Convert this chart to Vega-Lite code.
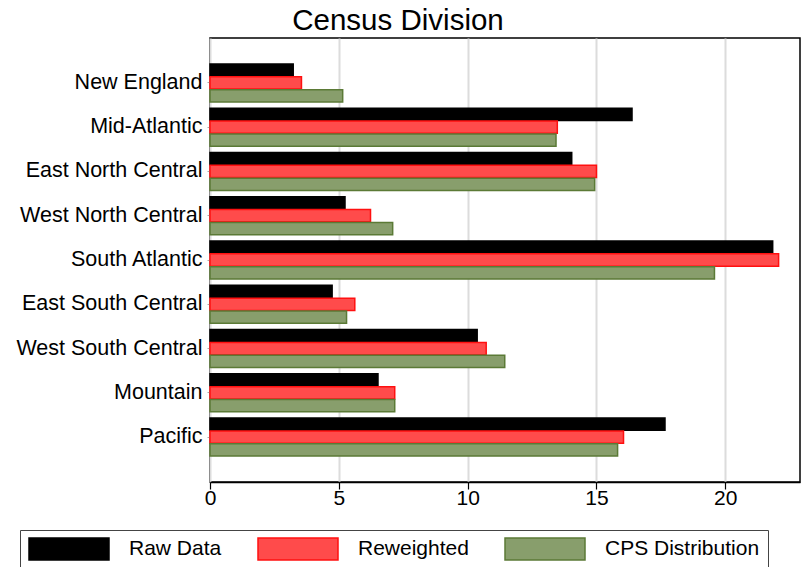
{
  "$schema": "https://vega.github.io/schema/vega-lite/v6.json",
  "width": 590,
  "height": 444,
  "autosize": {"type": "none"},
  "padding": {"left": 210, "top": 38, "right": 11, "bottom": 85},
  "title": {
    "text": "Census Division",
    "fontSize": 29.5,
    "fontWeight": "normal",
    "color": "#000000",
    "anchor": "middle",
    "dx": -107,
    "offset": 2
  },
  "data": {
    "values": [
      {"division": "New England", "series": "Raw Data", "value": 3.23},
      {"division": "New England", "series": "Reweighted", "value": 3.55},
      {"division": "New England", "series": "CPS Distribution", "value": 5.15},
      {"division": "Mid-Atlantic", "series": "Raw Data", "value": 16.38},
      {"division": "Mid-Atlantic", "series": "Reweighted", "value": 13.48},
      {"division": "Mid-Atlantic", "series": "CPS Distribution", "value": 13.43},
      {"division": "East North Central", "series": "Raw Data", "value": 14.04},
      {"division": "East North Central", "series": "Reweighted", "value": 15.0},
      {"division": "East North Central", "series": "CPS Distribution", "value": 14.93},
      {"division": "West North Central", "series": "Raw Data", "value": 5.24},
      {"division": "West North Central", "series": "Reweighted", "value": 6.23},
      {"division": "West North Central", "series": "CPS Distribution", "value": 7.09},
      {"division": "South Atlantic", "series": "Raw Data", "value": 21.84},
      {"division": "South Atlantic", "series": "Reweighted", "value": 22.07},
      {"division": "South Atlantic", "series": "CPS Distribution", "value": 19.58},
      {"division": "East South Central", "series": "Raw Data", "value": 4.74},
      {"division": "East South Central", "series": "Reweighted", "value": 5.62},
      {"division": "East South Central", "series": "CPS Distribution", "value": 5.30},
      {"division": "West South Central", "series": "Raw Data", "value": 10.37},
      {"division": "West South Central", "series": "Reweighted", "value": 10.72},
      {"division": "West South Central", "series": "CPS Distribution", "value": 11.44},
      {"division": "Mountain", "series": "Raw Data", "value": 6.52},
      {"division": "Mountain", "series": "Reweighted", "value": 7.17},
      {"division": "Mountain", "series": "CPS Distribution", "value": 7.17},
      {"division": "Pacific", "series": "Raw Data", "value": 17.66},
      {"division": "Pacific", "series": "Reweighted", "value": 16.05},
      {"division": "Pacific", "series": "CPS Distribution", "value": 15.82}
    ]
  },
  "mark": {"type": "bar", "strokeWidth": 1.5},
  "encoding": {
    "y": {
      "field": "division",
      "type": "nominal",
      "sort": ["New England", "Mid-Atlantic", "East North Central", "West North Central", "South Atlantic", "East South Central", "West South Central", "Mountain", "Pacific"],
      "scale": {"paddingInner": 0.14, "paddingOuter": 0.585},
      "axis": {
        "title": null,
        "labelFontSize": 21.5,
        "labelColor": "#000000",
        "ticks": true,
        "tickSize": 3,
        "tickColor": "#aaaaaa",
        "labelPadding": 5,
        "labelBaseline": "middle",
        "domain": false,
        "grid": false,
        "labelLimit": 300
      }
    },
    "yOffset": {
      "field": "series",
      "type": "nominal",
      "sort": ["Raw Data", "Reweighted", "CPS Distribution"],
      "scale": {"paddingInner": 0.05}
    },
    "x": {
      "field": "value",
      "type": "quantitative",
      "scale": {"domain": [0, 22.9], "nice": false, "zero": true},
      "axis": {
        "title": null,
        "values": [0, 5, 10, 15, 20],
        "labelFontSize": 21,
        "labelColor": "#000000",
        "labelFlush": false,
        "tickSize": 7,
        "tickColor": "#000000",
        "tickWidth": 1.2,
        "labelPadding": -2,
        "domainColor": "#000000",
        "domainWidth": 1.5,
        "grid": true,
        "gridColor": "#dcdcdc",
        "gridWidth": 2
      }
    },
    "fill": {
      "field": "series",
      "type": "nominal",
      "scale": {
        "domain": ["Raw Data", "Reweighted", "CPS Distribution"],
        "range": ["#000000", "#ff4b4b", "#889e6c"]
      },
      "legend": {
        "title": null,
        "orient": "none",
        "direction": "horizontal",
        "legendX": -190,
        "legendY": 492,
        "padding": 8,
        "strokeColor": "#444444",
        "symbolType": "M-1,-1.1H7V1.1H-1Z",
        "symbolSize": 400,
        "symbolStrokeWidth": 1.5,
        "labelFontSize": 21,
        "labelColor": "#000000",
        "labelOffset": 79,
        "labelLimit": 300,
        "columnPadding": 33
      }
    },
    "stroke": {
      "field": "series",
      "type": "nominal",
      "scale": {
        "domain": ["Raw Data", "Reweighted", "CPS Distribution"],
        "range": ["#000000", "#ff1010", "#5b7a36"]
      },
      "legend": null
    }
  },
  "config": {
    "font": "Liberation Sans",
    "view": {"stroke": "#000000", "strokeWidth": 1.5},
    "background": "#ffffff"
  }
}
